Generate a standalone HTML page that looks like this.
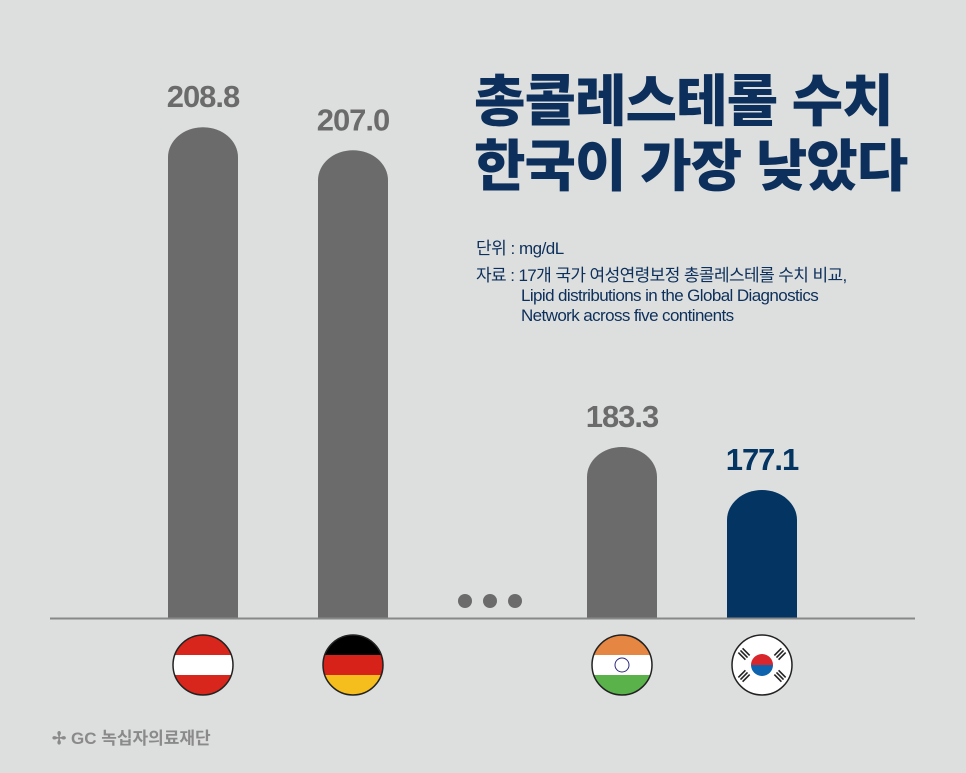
<!DOCTYPE html>
<html><head><meta charset="utf-8"><style>
body{margin:0;background:#dddfde;font-family:"Liberation Sans","Noto Sans CJK KR",sans-serif}
#c{position:relative;width:966px;height:773px;overflow:hidden}
.t{position:absolute;color:#0d2f5b}
</style></head><body>
<div id="c">
<svg id="s" width="966" height="773" style="position:absolute;left:0;top:0"></svg>
<div class="t" style="left:474px;top:69px;font-size:56px;font-weight:900;line-height:65px;letter-spacing:-1px">총콜레스테롤 수치<br>한국이 가장 낮았다</div>
<div class="t" style="left:476px;top:234px;font-size:17px;letter-spacing:-0.5px">단위 : mg/dL</div>
<div class="t" style="left:476px;top:266px;font-size:17px;line-height:20px;letter-spacing:-0.6px">자료 : 17개 국가 여성연령보정 총콜레스테롤 수치 비교,<br><span style="padding-left:45px">Lipid distributions in the Global Diagnostics</span><br><span style="padding-left:45px">Network across five continents</span></div>
<div style="position:absolute;left:52px;top:724px;font-size:17px;font-weight:bold;color:#8a8a8a">✢ GC 녹십자의료재단</div>
</div>
<script>
const categories=["Austria","Germany","India","Korea"];
const values=[208.8,207.0,183.3,177.1];
const labels=["208.8","207.0","183.3","177.1"];
const NS="http://www.w3.org/2000/svg",s=document.getElementById("s");
const base=618;
const xs=[203,353,622,762];
// broken axis: separate scale before and after the ellipsis
function y(v,i){return i<2?base-(v-170.4)*12.78:base-(v-158.66)*6.94}
function mk(t,a){const e=document.createElementNS(NS,t);for(const q in a)e.setAttribute(q,a[q]);s.appendChild(e);return e}
values.forEach((v,i)=>{
const top=y(v,i),x=xs[i]-35,col=i==3?"#043462":"#6b6b6b";
const p=mk("path",{d:`M${x},${base}V${top+30}A35,30 0 0 1 ${x+70},${top+30}V${base}Z`,fill:col});


const t=mk("text",{x:xs[i],y:top-20,"text-anchor":"middle","font-size":31,"font-weight":"bold",fill:i==3?"#043462":"#6b6b6b","letter-spacing":"-1"});
t.textContent=labels[i];


});
const ax=mk("line",{x1:50,x2:915,y1:618.5,y2:618.5,stroke:"#888","stroke-width":2});


[465,490,515].forEach(cx=>{const d=mk("circle",{cx,cy:601,r:7,fill:"#6b6b6b"});

});
const flags=[["#d9261c","#fff","#d9261c"],["#000","#d62218","#f5be1d"],["#e68643","#fff","#5ab34a"],null];
flags.forEach((f,i)=>{
const cx=xs[i],cy=665,g=document.createElementNS(NS,"g");s.appendChild(g);


const cp=mk("clipPath",{id:"cp"+i});const cc=document.createElementNS(NS,"circle");cc.setAttribute("cx",cx);cc.setAttribute("cy",cy);cc.setAttribute("r",30);cp.appendChild(cc);
const h=60/3;
if(f){f.forEach((c,j)=>{const r=document.createElementNS(NS,"rect");r.setAttribute("x",cx-30);r.setAttribute("y",cy-30+j*h);r.setAttribute("width",60);r.setAttribute("height",h+0.5);r.setAttribute("fill",c);r.setAttribute("clip-path",`url(#cp${i})`);g.appendChild(r);});
if(i==2){const w=document.createElementNS(NS,"circle");w.setAttribute("cx",cx);w.setAttribute("cy",cy);w.setAttribute("r",7);w.setAttribute("fill","none");w.setAttribute("stroke","#2a2a7a");g.appendChild(w);}}
else{const b=document.createElementNS(NS,"circle");b.setAttribute("cx",cx);b.setAttribute("cy",cy);b.setAttribute("r",30);b.setAttribute("fill","#fff");g.appendChild(b);
const r1=document.createElementNS(NS,"path");r1.setAttribute("d",`M${cx-11},${cy}A11,11 0 0 1 ${cx+11},${cy}Z`);r1.setAttribute("fill","#d9262c");g.appendChild(r1);
const r2=document.createElementNS(NS,"path");r2.setAttribute("d",`M${cx-11},${cy}A11,11 0 0 0 ${cx+11},${cy}Z`);r2.setAttribute("fill","#0d63ad");g.appendChild(r2);
[[-18,-11],[18,-11],[-18,11],[18,11]].forEach(([dx,dy])=>{for(let k=-1;k<=1;k++){const l=document.createElementNS(NS,"line");l.setAttribute("x1",cx+dx-5);l.setAttribute("x2",cx+dx+5);l.setAttribute("y1",cy+dy+k*3);l.setAttribute("y2",cy+dy+k*3);l.setAttribute("stroke","#222");l.setAttribute("stroke-width",1.6);l.setAttribute("transform",`rotate(${dx*dy>0?45:-45} ${cx+dx} ${cy+dy})`);g.appendChild(l);}});}
const o=document.createElementNS(NS,"circle");o.setAttribute("cx",cx);o.setAttribute("cy",cy);o.setAttribute("r",30);o.setAttribute("fill","none");o.setAttribute("stroke","#222");o.setAttribute("stroke-width",1.5);g.appendChild(o);
});
</script>
</body></html>
